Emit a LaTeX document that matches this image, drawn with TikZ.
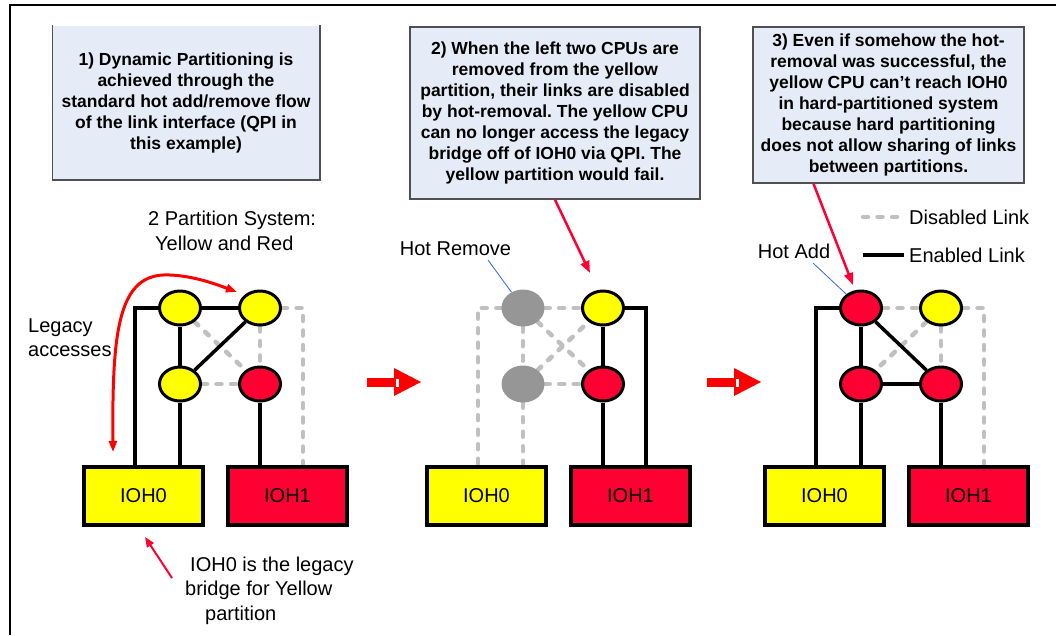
\documentclass[tikz,border=0pt]{standalone}
\usepackage{fontspec}
\setmainfont{Liberation Sans}
\usetikzlibrary{arrows.meta,backgrounds,shapes.geometric}
\definecolor{cpuyellow}{RGB}{255,255,0}
\definecolor{cpured}{RGB}{255,0,51}
\definecolor{cpugray}{RGB}{150,150,150}
\definecolor{linkgray}{RGB}{192,192,192}
\definecolor{notefill}{RGB}{230,236,247}
\definecolor{noteedge}{RGB}{80,80,80}
\definecolor{hotblue}{RGB}{50,100,240}
\frenchspacing
\begin{document}
\begin{tikzpicture}[x=1pt,y=-1pt,
 cpu/.style={ellipse, draw=black, line width=3pt, minimum width=41pt, minimum height=34pt, inner sep=0pt},
 cpuy/.style={cpu, fill=cpuyellow},
 cpur/.style={cpu, fill=cpured},
 cpug/.style={ellipse, fill=cpugray, minimum width=43pt, minimum height=37pt, inner sep=0pt},
 ioh/.style={rectangle, draw=black, line width=4pt, minimum width=119pt, minimum height=58pt, inner sep=0pt, font=\fontsize{20}{24}\selectfont},
 en/.style={line width=3.5pt, black},
 dis/.style={line width=4.5pt, linkgray, dash pattern=on 5pt off 9.5pt, line cap=round},
 note/.style={fill=notefill, draw=noteedge, line width=1.5pt, align=center, font=\fontsize{17.5}{21}\selectfont\bfseries, inner sep=0pt},
 lbl/.style={font=\fontsize{20}{24.5}\selectfont, inner sep=0pt},
 callout/.style={draw=cpured, line width=2.5pt, -{Triangle[length=12pt,width=9pt]}},
 hotline/.style={draw=hotblue, line width=0.8pt},
 blockarrow/.style={fill=red},
]
\useasboundingbox (0,0) rectangle (1056,635);
\draw[line width=2.5pt] (10,635) -- (10,5) -- (1056,5);

% ---------- notes ----------
\node[note, draw=none, minimum width=266pt, minimum height=153pt] (n1) at (186,102.5)
 {1) Dynamic Partitioning is\\achieved through the\\standard hot add/remove flow\\of the link interface (QPI in\\this example)};
\draw[noteedge, line width=1.5pt] (n1.north west) -- (n1.south west) -- (n1.south east) -- (n1.north east);
\node[note, minimum width=290pt, minimum height=172pt] (n2) at (555,113)
 {2) When the left two CPUs are\\removed from the yellow\\partition, their links are disabled\\by hot-removal. The yellow CPU\\can no longer access the legacy\\bridge off of IOH0 via QPI. The\\yellow partition would fail.};
\node[note, minimum width=271pt, minimum height=156pt] (n3) at (888.5,105)
 {3) Even if somehow the hot-\\removal was successful, the\\yellow CPU can’t reach IOH0\\in hard-partitioned system\\because hard partitioning\\does not allow sharing of links\\between partitions.};

% ---------- left panel ----------
\node[cpuy] (L-TL) at (180,308) {};
\node[cpuy] (L-TR) at (260,308) {};
\node[cpuy] (L-BL) at (180,384) {};
\node[cpur] (L-BR) at (260,384) {};
\node[ioh, fill=cpuyellow] (L-IO0) at (143.5,496) {IOH0};
\node[ioh, fill=cpured] (L-IO1) at (287.5,496) {IOH1};
\begin{scope}[on background layer]
 \draw[dis] (L-TL) -- (L-BR);
 \draw[dis] (L-BL) -- (L-BR);
 \draw[dis] (L-TR) -- (L-BR);
 \draw[dis] (L-TR.east) -| ([xshift=77]L-IO1.north west);
 \draw[en] (L-TL.west) -| ([xshift=53]L-IO0.north west);
 \draw[en] (L-TL) -- (L-TR);
 \draw[en] (L-TL) -- (L-BL);
 \draw[en] (L-TR) -- (L-BL);
 \draw[en] (L-BL) -- (L-BL |- L-IO0.north);
 \draw[en] (L-BR) -- (L-BR |- L-IO1.north);
\end{scope}
\coordinate (legA) at (113,452);
\coordinate (legB) at (237,292);
\draw[draw=red, line width=3pt, {Triangle[length=11pt,width=8pt]}-{Triangle[length=11pt,width=8pt]}]
 (legA) .. controls (112,330) and (118,272) .. (170,275) .. controls (195,276) and (218,285) .. (legB);
\node[lbl, align=left, anchor=west] (sys) at (148,231) {2 Partition System:\\\hspace*{7pt}Yellow and Red};
\node[lbl, align=left, anchor=west] (legacy) at (28,337.5) {Legacy\\accesses};
\node[lbl, align=left, anchor=west] (bridge) at (185,590.5) {\hspace*{5pt}IOH0 is the legacy\\bridge for Yellow\\\hspace*{20pt}partition};
\coordinate (brA) at (172,578);
\coordinate (brB) at (145,537);
\draw[draw=cpured, line width=2pt, -{Triangle[length=10pt,width=8pt]}] (brA) -- (brB);

% ---------- block arrows ----------
\fill[blockarrow] (367,378) rectangle (394,387);
\fill[blockarrow] (394,368) -- (421,382) -- (394,396) -- cycle;
\fill[white] (395.5,378.5) rectangle (399,386.5);
\fill[blockarrow] (707,378) rectangle (734,387);
\fill[blockarrow] (734,368) -- (761,382) -- (734,396) -- cycle;
\fill[white] (735.5,378.5) rectangle (739,386.5);

% ---------- middle panel ----------
\node[cpug] (M-TL) at (523,308) {};
\node[cpuy] (M-TR) at (603,308) {};
\node[cpug] (M-BL) at (523,384) {};
\node[cpur] (M-BR) at (603,384) {};
\node[ioh, fill=cpuyellow] (M-IO0) at (486.5,496) {IOH0};
\node[ioh, fill=cpured] (M-IO1) at (630.5,496) {IOH1};
\begin{scope}[on background layer]
 \draw[dis] (M-TL.west) -| ([xshift=53]M-IO0.north west);
 \draw[dis] (M-TL) -- (M-TR);
 \draw[dis] (M-TL) -- (M-BL);
 \draw[dis] (M-TL) -- (M-BR);
 \draw[dis] (M-BL) -- (M-TR);
 \draw[dis] (M-BL) -- (M-BR);
 \draw[dis] (M-BL) -- (M-BL |- M-IO0.north);
 \draw[en] (M-TR) -- (M-BR);
 \draw[en] (M-TR.east) -| ([xshift=77]M-IO1.north west);
 \draw[en] (M-BR) -- (M-BR |- M-IO1.north);
\end{scope}
\node[lbl] (hr) at (455.5,249) {Hot Remove};
\coordinate (hrA) at (488,260);
\draw[hotline] (hrA) -- (M-TL);
\coordinate (n2tip) at (590,273);
\draw[callout] (n2.south) -- (n2tip);

% ---------- right panel ----------
\node[cpur] (R-TL) at (861,308) {};
\node[cpuy] (R-TR) at (941,308) {};
\node[cpur] (R-BL) at (861,384) {};
\node[cpur] (R-BR) at (941,384) {};
\node[ioh, fill=cpuyellow] (R-IO0) at (824.5,496) {IOH0};
\node[ioh, fill=cpured] (R-IO1) at (968.5,496) {IOH1};
\begin{scope}[on background layer]
 \draw[dis] (R-TL) -- (R-TR);
 \draw[dis] (R-TR) -- (R-BL);
 \draw[dis] (R-TR) -- (R-BR);
 \draw[dis] (R-TR.east) -| ([xshift=77]R-IO1.north west);
 \draw[en] (R-TL.west) -| ([xshift=53]R-IO0.north west);
 \draw[en] (R-TL) -- (R-BL);
 \draw[en] (R-TL) -- (R-BR);
 \draw[en] (R-BL) -- (R-BR);
 \draw[en] (R-BL) -- (R-BL |- R-IO0.north);
 \draw[en] (R-BR) -- (R-BR |- R-IO1.north);
\end{scope}
\node[lbl] (ha) at (794,251) {Hot Add};
\coordinate (haA) at (813,263);
\draw[hotline] (haA) -- (R-TL);
\coordinate (n3tip) at (853,285);
\draw[callout] ([xshift=-75]n3.south) -- (n3tip);

% ---------- legend ----------
\coordinate (lgD1) at (863,217);
\coordinate (lgD2) at (899,217);
\draw[dis] (lgD1) -- (lgD2);
\node[lbl, anchor=west] (lgDt) at (909,217) {Disabled Link};
\coordinate (lgE1) at (863,255);
\coordinate (lgE2) at (904,255);
\draw[line width=4pt, black] (lgE1) -- (lgE2);
\node[lbl, anchor=west] (lgEt) at (909,255) {Enabled Link};
\end{tikzpicture}
\end{document}
